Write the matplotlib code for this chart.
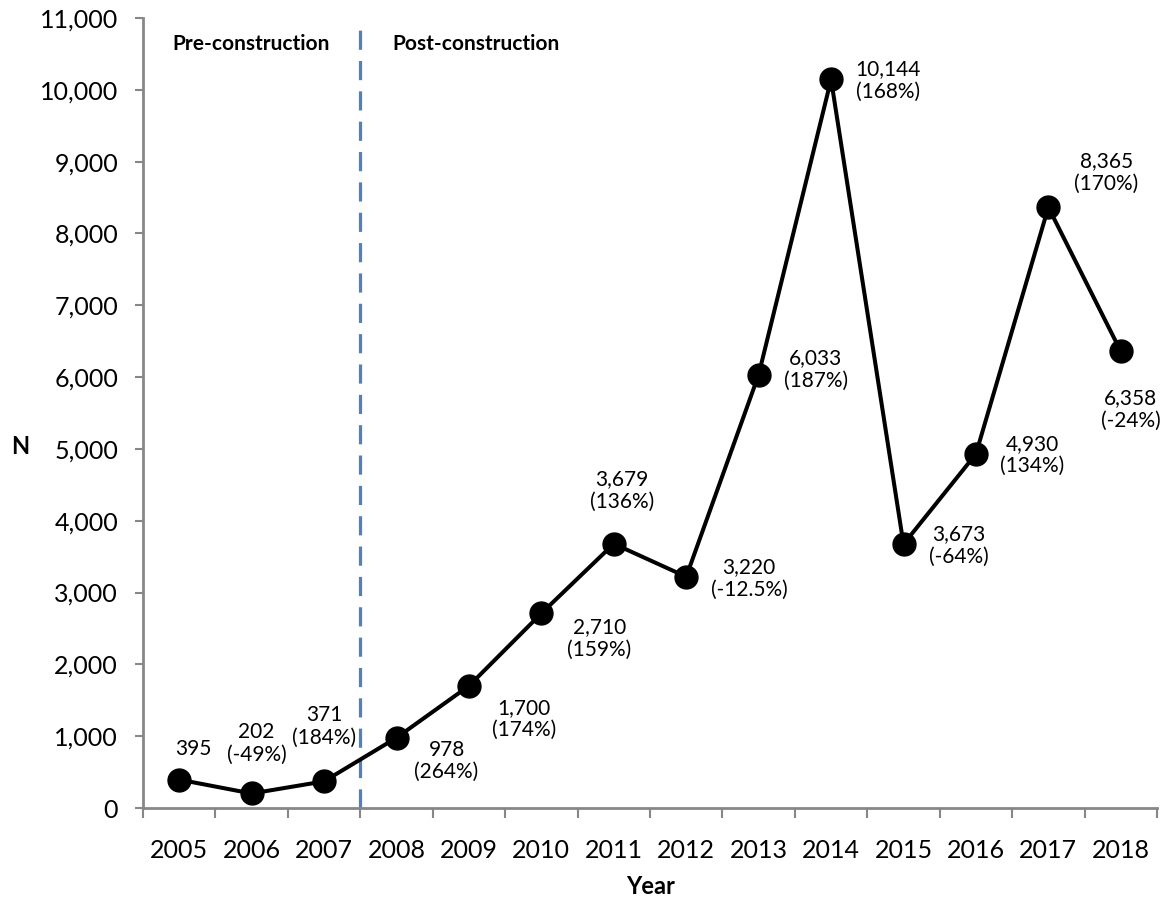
import matplotlib
matplotlib.use("Agg")
import matplotlib.pyplot as plt
from matplotlib.ticker import FuncFormatter, FixedLocator

plt.rcParams['font.family'] = ['Lato', 'DejaVu Sans']

years = ["2005", "2006", "2007", "2008", "2009", "2010", "2011", "2012",
         "2013", "2014", "2015", "2016", "2017", "2018"]
counts = [395, 202, 371, 978, 1700, 2710, 3679, 3220, 6033, 10144, 3673, 4930, 8365, 6358]
pct = ["", "-49%", "184%", "264%", "174%", "159%", "136%", "-12.5%",
       "187%", "168%", "-64%", "134%", "170%", "-24%"]
yticks = list(range(0, 11001, 1000))

# label offsets (pixels, dx right, dy up) -- styling only
offsets_px = [(14, 31), (5, 50), (0, 55), (50, -23), (55, -33), (58, -25), (8, 53),
              (63, -2), (57, 5), (57, -1), (55, -1), (56, -1), (58, 35), (10, -58)]

W, H, DPI = 1165, 901, 100
fig = plt.figure(figsize=(W / DPI, H / DPI), dpi=DPI)
ax = fig.add_axes([143 / W, 1 - 808 / H, (1157 - 143) / W, (808 - 18) / H])

axis_grey = "#878787"
x = list(range(len(years)))
ax.plot(x, counts, color="black", lw=2.9, marker="o", markersize=16.5,
        markerfacecolor="black", markeredgecolor="black", zorder=3)

ax.set_xlim(-0.5, len(years) - 0.5)
ax.set_ylim(0, 11000)

# dashed boundary between 2007 and 2008
ax.axvline(2.5, ymin=0, ymax=(808 - 25) / (808 - 18), color="#4f81bd", lw=2.3,
           linestyle=(0, (6, 3.5)), zorder=2)

for xi, c, p, (dx, dy) in zip(x, counts, pct, offsets_px):
    txt = f"{c:,}" if p == "" else f"{c:,}\n({p})"
    ax.annotate(txt, (xi, c), xytext=(dx * 0.72, dy * 0.72), textcoords="offset points",
                ha="center", va="center", fontsize=15, linespacing=1.15, color="black")

for s in ["top", "right"]:
    ax.spines[s].set_visible(False)
for s in ["left", "bottom"]:
    ax.spines[s].set_color(axis_grey)
    ax.spines[s].set_linewidth(2)

ax.set_yticks(yticks)
ax.yaxis.set_major_formatter(FuncFormatter(lambda v, _: f"{int(v):,}"))
ax.tick_params(axis="y", direction="out", length=6, width=1.5, color=axis_grey,
               labelsize=18, pad=12)

ax.xaxis.set_major_locator(FixedLocator([i - 0.5 for i in range(len(years) + 1)]))
ax.xaxis.set_major_formatter(FuncFormatter(lambda v, _: ""))
ax.set_xticks(x, minor=True)
ax.set_xticklabels(years, minor=True)
ax.tick_params(axis="x", which="major", direction="out", length=7.5, width=1.5, color=axis_grey)
ax.tick_params(axis="x", which="minor", length=0, labelsize=18, pad=22)

fig.text(251 / W, 1 - 44 / H, "Pre-construction", ha="center", va="center",
         fontsize=15, fontweight="bold")
fig.text(476 / W, 1 - 44 / H, "Post-construction", ha="center", va="center",
         fontsize=15, fontweight="bold")
fig.text(20 / W, 1 - 447 / H, "N", ha="center", va="center", fontsize=17, fontweight="bold")
fig.text(651 / W, 1 - 886 / H, "Year", ha="center", va="center", fontsize=17, fontweight="bold")

fig.savefig("out.png", dpi=DPI)
